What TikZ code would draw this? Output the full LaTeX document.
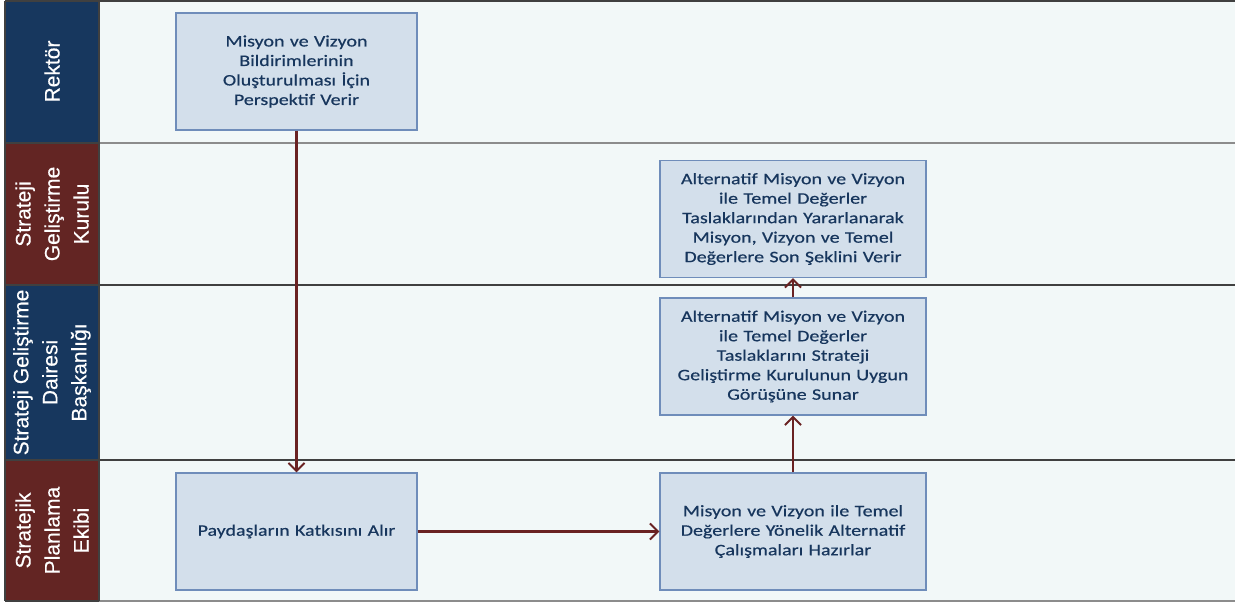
\documentclass[tikz,border=0pt]{standalone}
\usepackage{fontspec}
\setmainfont{Liberation Sans}
\newfontfamily\boxfont{Carlito}[FakeStretch=1.25,FakeBold=0.5]
\newfontfamily\headfont{Liberation Sans}[FakeBold=0.3]
\usepackage{tikz}
\usetikzlibrary{positioning, calc}
\usetikzlibrary{arrows.meta}

\definecolor{lanenavy}{HTML}{17375E}
\definecolor{lanered}{HTML}{632523}
\definecolor{lanebg}{HTML}{F2F8F8}
\definecolor{boxfill}{HTML}{D3DFEB}
\definecolor{boxline}{HTML}{6F8DBA}
\definecolor{boxtext}{HTML}{17365D}
\definecolor{flowred}{HTML}{6A2222}

\tikzset{
    headtext/.style = {rotate=90, text=white, align=center, font=\headfont\fontsize{21}{29}\selectfont},
    taskbox/.style = {draw=boxline, fill=boxfill, line width=1.3pt, text=boxtext, align=center,
                      minimum height=117pt, inner sep=0pt, font=\boxfont\fontsize{16}{19.5}\selectfont},
    flow/.style = {draw=flowred, line width=2.6pt, -{Straight Barb[length=8pt,width=16pt,line width=2pt]}},
    laneline/.style = {draw=black!75, line width=1.2pt}
}

\begin{document}
\begin{tikzpicture}[x=1pt,y=-1pt]
                \useasboundingbox (0,0) rectangle (1235,604);
                % lanes
                \fill[lanebg] (99,1) rectangle (1235,601);
                \fill[lanenavy] (5,1) rectangle (99,143);
                \fill[lanered] (5,143) rectangle (99,285);
                \fill[lanenavy] (5,285) rectangle (99,460);
                \fill[lanered] (5,460) rectangle (99,601);
                \draw[laneline] (5,1) -- (1235,1);
                \draw[draw=black!45, line width=1.5pt] (99,143) -- (1235,143);
                \draw[laneline] (5,143) -- (99,143);
                \draw[laneline] (5,285) -- (1235,285);
                \draw[laneline] (5,460) -- (1235,460);
                \draw[draw=black!45, line width=2pt] (99,601) -- (1235,601);
                \draw[laneline] (5,601) -- (99,601);
                \draw[laneline] (5,1) -- (5,601);
                \draw[laneline] (99,1) -- (99,601);
                \node[headtext] (rektor) at (52,71.5) {Rektör};
                \node[headtext] (kurul) at (52,214) {Strateji\\Geliştirme\\Kurulu};
                \node[headtext] (daire) at (52,372.5) {Strateji Geliştirme\\Dairesi\\Başkanlığı};
                \node[headtext] (ekip) at (52,530.5) {Stratejik\\Planlama\\Ekibi};
                % tasks
                \node[taskbox, minimum width=241pt, text width=225pt] (perspektif) at (296.5,71.5)
                    {Misyon ve Vizyon\\Bildirimlerinin\\Oluşturulması İçin\\Perspektif Verir};
                \node[taskbox, minimum width=241pt, text width=225pt] (katki) at (296.5,531.5)
                    {Paydaşların Katkısını Alır};
                \node[taskbox, minimum width=266pt, text width=250pt] (hazirla) at (793,531.5)
                    {Misyon ve Vizyon ile Temel\\Değerlere Yönelik Alternatif\\Çalışmaları Hazırlar};
                \node[taskbox, minimum width=266pt, text width=250pt] (sunar) at (793,356.5)
                    {Alternatif Misyon ve Vizyon\\ile Temel Değerler\\Taslaklarını Strateji\\Geliştirme Kurulunun Uygun\\Görüşüne Sunar};
                \node[taskbox, minimum width=266pt, text width=250pt] (sonsekil) at (793,219)
                    {Alternatif Misyon ve Vizyon\\ile Temel Değerler\\Taslaklarından Yararlanarak\\Misyon, Vizyon ve Temel\\Değerlere Son Şeklini Verir};
                % flow
                \draw[flow] (perspektif) -- (katki);
                \draw[flow] (katki) -- (hazirla);
                \draw[flow] (hazirla) -- (sunar);
                \draw[flow] (sunar) -- (sonsekil);
\end{tikzpicture}
\end{document}
